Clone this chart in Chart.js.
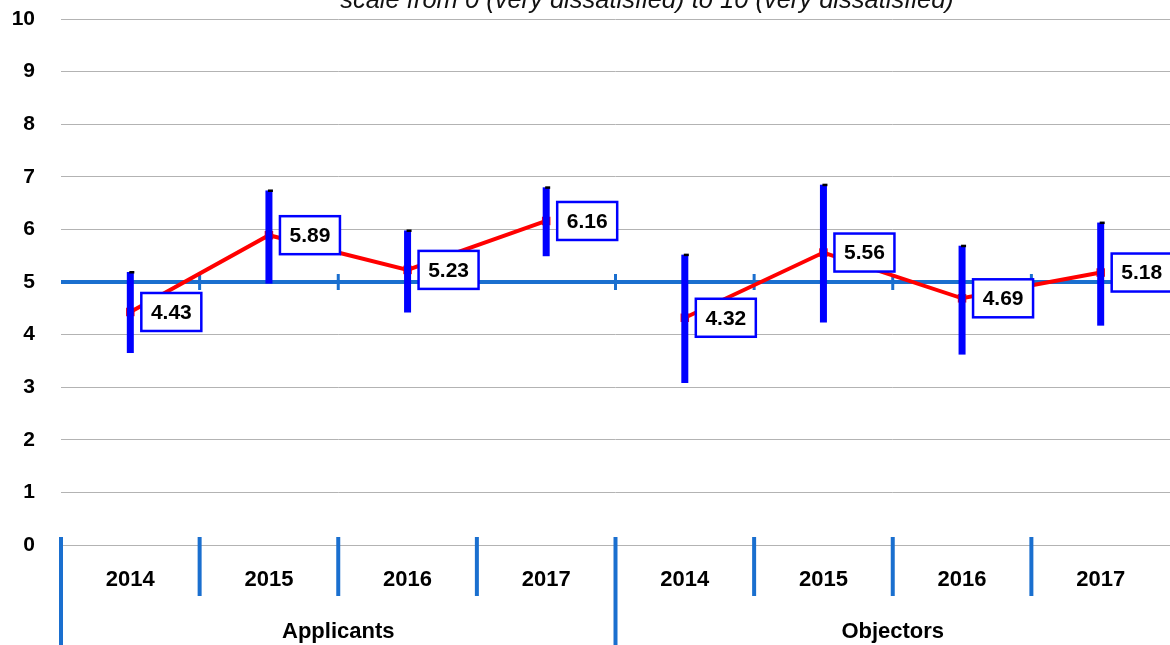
<!DOCTYPE html>
<html>
<head>
<meta charset="utf-8">
<script src="https://cdn.jsdelivr.net/npm/chart.js@4.4.1/dist/chart.umd.min.js"></script>
<style>
  html, body { margin: 0; padding: 0; background: #ffffff; }
  #wrap { width: 1170px; height: 645px; position: relative; }
</style>
</head>
<body>
<div id="wrap"><canvas id="satisfaction-chart"></canvas></div>
<script>
// Chart values
const yearLabels = ['2014', '2015', '2016', '2017', '2014', '2015', '2016', '2017'];
const groupLabels = ['Applicants', 'Objectors'];
const applicantMeans = [4.43, 5.89, 5.23, 6.16, null, null, null, null];
const objectorMeans = [null, null, null, null, 4.32, 5.56, 4.69, 5.18];
const errorUpper = [5.19, 6.74, 5.98, 6.80, 5.52, 6.85, 5.69, 6.13];
const errorLower = [3.65, 4.97, 4.42, 5.49, 3.08, 4.23, 3.62, 4.17];
const referenceValue = 5;
const yTicks = [0, 1, 2, 3, 4, 5, 6, 7, 8, 9, 10];
const subtitleText = 'scale from 0 (very dissatisfied) to 10 (very dissatisfied)';

const axisBlue = '#1a6fcf';
const fontFamily = '"Liberation Sans", Arial, sans-serif';

// line at 5 with small ticks on the category boundaries
const referenceLine = {
    id: 'referenceLine',
    beforeDatasetsDraw(chart) {
        const { ctx, chartArea, scales } = chart;
        const y = scales.y.getPixelForValue(referenceValue);
        const step = (chartArea.right - chartArea.left) / yearLabels.length;
        ctx.save();
        ctx.strokeStyle = axisBlue;
        ctx.lineWidth = 4;
        ctx.beginPath();
        ctx.moveTo(chartArea.left, y);
        ctx.lineTo(chartArea.right, y);
        ctx.stroke();
        ctx.lineWidth = 3;
        for (let i = 1; i < yearLabels.length; i++) {
            const x = chartArea.left + i * step;
            ctx.beginPath();
            ctx.moveTo(x, y - 8);
            ctx.lineTo(x, y + 8);
            ctx.stroke();
        }
        ctx.restore();
    }
};

// blue error bars, then boxed value labels
const errorBarsAndLabels = {
    id: 'errorBarsAndLabels',
    afterDatasetsDraw(chart) {
        const { ctx, scales } = chart;
        const xs = scales.x, ys = scales.y;
        ctx.save();
        errorUpper.forEach((hi, i) => {
            const x = xs.getPixelForValue(i);
            const top = ys.getPixelForValue(hi);
            const bottom = ys.getPixelForValue(errorLower[i]);
            ctx.fillStyle = '#0000ff';
            ctx.fillRect(x - 3.5, top, 7, bottom - top);
            ctx.fillStyle = '#000000';
            ctx.fillRect(x - 1, top - 1, 5, 2.5);
        });
        const means = applicantMeans.map((v, i) => v !== null ? v : objectorMeans[i]);
        ctx.font = 'bold 21px ' + fontFamily;
        ctx.textAlign = 'center';
        ctx.textBaseline = 'middle';
        means.forEach((v, i) => {
            const x = xs.getPixelForValue(i) + 11;
            const y = ys.getPixelForValue(v);
            const w = 60, h = 38;
            ctx.fillStyle = '#ffffff';
            ctx.fillRect(x, y - h / 2, w, h);
            ctx.strokeStyle = '#0000ff';
            ctx.lineWidth = 2.5;
            ctx.strokeRect(x, y - h / 2, w, h);
            ctx.fillStyle = '#000000';
            ctx.fillText(v.toFixed(2), x + w / 2, y + 1);
        });
        ctx.restore();
    }
};

// blue separators between years and groups below the plot, and the clipped subtitle
const separators = {
    id: 'separators',
    afterDraw(chart) {
        const { ctx, chartArea } = chart;
        const step = (chartArea.right - chartArea.left) / yearLabels.length;
        const base = chartArea.bottom;
        ctx.save();
        ctx.strokeStyle = axisBlue;
        ctx.lineWidth = 4;
        // the right-most separator falls just outside the picture
        for (let i = 0; i < yearLabels.length; i++) {
            const x = chartArea.left + i * step;
            const isGroup = i % 4 === 0;
            ctx.beginPath();
            ctx.moveTo(x, base - 8);
            ctx.lineTo(x, isGroup ? chart.height : base + 51);
            ctx.stroke();
        }
        ctx.fillStyle = '#111111';
        ctx.font = 'italic 25.5px ' + fontFamily;
        ctx.textAlign = 'center';
        ctx.textBaseline = 'alphabetic';
        ctx.fillText(subtitleText, 647, 8);
        ctx.restore();
    }
};

function noPadding(scale) {
    scale.paddingTop = 0;
    scale.paddingBottom = 0;
    scale.paddingLeft = 0;
    scale.paddingRight = 0;
}

const ctx = document.getElementById('satisfaction-chart').getContext('2d');
new Chart(ctx, {
    type: 'line',
    data: {
        labels: yearLabels,
        datasets: [
            {
                label: 'Applicants',
                data: applicantMeans,
                borderColor: '#ff0000',
                backgroundColor: '#ff0000',
                borderWidth: 4,
                pointStyle: 'rect',
                pointRadius: 6,
                pointBorderWidth: 0,
                spanGaps: false
            },
            {
                label: 'Objectors',
                data: objectorMeans,
                borderColor: '#ff0000',
                backgroundColor: '#ff0000',
                borderWidth: 4,
                pointStyle: 'rect',
                pointRadius: 6,
                pointBorderWidth: 0,
                spanGaps: false
            }
        ]
    },
    options: {
        responsive: true,
        maintainAspectRatio: false,
        animation: false,
        layout: { autoPadding: false, padding: { top: 19, right: 0, left: 0, bottom: 0 } },
        plugins: {
            legend: { display: false },
            tooltip: { enabled: false }
        },
        scales: {
            y: {
                min: 0,
                max: 10,
                afterBuildTicks: scale => { scale.ticks = yTicks.map(v => ({ value: v })); },
                afterFit: scale => { scale.width = 61; noPadding(scale); },
                border: { display: false },
                grid: { color: '#b3b3b3', lineWidth: 1, drawTicks: false },
                ticks: {
                    color: '#000000',
                    padding: 26,
                    font: { family: fontFamily, size: 21, weight: 'bold' }
                }
            },
            x: {
                position: 'bottom',
                weight: 0,
                offset: true,
                afterFit: scale => { scale.height = 65; noPadding(scale); },
                border: { display: false },
                grid: { display: false, drawTicks: false },
                ticks: {
                    color: '#000000',
                    padding: 22,
                    maxRotation: 0,
                    autoSkip: false,
                    font: { family: fontFamily, size: 22, weight: 'bold' }
                }
            },
            x2: {
                type: 'category',
                labels: groupLabels,
                position: 'bottom',
                weight: 1,
                offset: true,
                afterFit: scale => { scale.height = 35; noPadding(scale); },
                border: { display: false },
                grid: { display: false, drawTicks: false },
                ticks: {
                    color: '#000000',
                    padding: 9,
                    maxRotation: 0,
                    font: { family: fontFamily, size: 22, weight: 'bold' }
                }
            }
        }
    },
    plugins: [referenceLine, errorBarsAndLabels, separators]
});
</script>
</body>
</html>
